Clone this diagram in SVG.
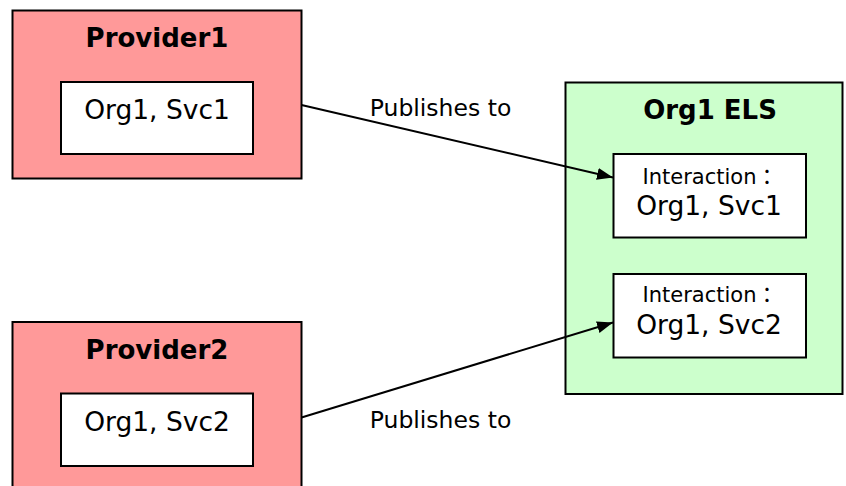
<svg xmlns="http://www.w3.org/2000/svg" width="846" height="486" viewBox="0 0 846 486">
  <style>
    .provider { fill: #ff9999; stroke: #000; stroke-width: 2; }
    .els { fill: #ccffcc; stroke: #000; stroke-width: 2; }
    .item { fill: #ffffff; stroke: #000; stroke-width: 2; }
    text { font-family: "DejaVu Sans", Verdana, "Noto Sans CJK JP", sans-serif; fill: #000; text-anchor: middle; }
    .title { font-weight: bold; font-size: 26px; }
    .name { font-size: 26.5px; }
    .kind { font-size: 21px; }
    .label { font-size: 23.5px; }
    .edge { stroke: #000; stroke-width: 2; fill: none; marker-end: url(#arrow); }
  </style>
  <defs>
    <marker id="arrow" viewBox="0 0 16 12" refX="16" refY="6" markerWidth="8" markerHeight="6" markerUnits="strokeWidth" orient="auto">
      <path d="M0,0 L16,6 L0,12 z" fill="#000"/>
    </marker>
  </defs>

  <rect width="846" height="486" fill="#fff"/>

  <g id="provider1">
    <rect class="provider" x="12.5" y="10.5" width="289" height="168"/>
    <text class="title" x="157" y="47">Provider1</text>
    <g id="provider1-svc1">
      <rect class="item" x="61" y="82" width="192" height="72"/>
      <text class="name" x="157" y="119">Org1, Svc1</text>
    </g>
  </g>

  <g id="provider2">
    <rect class="provider" x="12.5" y="322" width="289" height="180"/>
    <text class="title" x="157" y="358.5">Provider2</text>
    <g id="provider2-svc2">
      <rect class="item" x="61" y="393.5" width="192" height="72.5"/>
      <text class="name" x="157" y="431">Org1, Svc2</text>
    </g>
  </g>

  <g id="org1-els">
    <rect class="els" x="565.5" y="82.5" width="277" height="311.5"/>
    <text class="title" x="710" y="118.5">Org1 ELS</text>
    <g id="interaction-svc1">
      <rect class="item" x="613.5" y="154" width="192.5" height="83.5"/>
      <text class="kind" x="710" y="183.5">Interaction：</text>
      <text class="name" x="709" y="215">Org1, Svc1</text>
    </g>
    <g id="interaction-svc2">
      <rect class="item" x="613.5" y="274" width="192.5" height="83.5"/>
      <text class="kind" x="710" y="302">Interaction：</text>
      <text class="name" x="709" y="333.5">Org1, Svc2</text>
    </g>
  </g>

  <g id="connectors">
    <line class="edge" x1="301.5" y1="105" x2="613" y2="177.5"/>
    <text class="label" x="440.5" y="116">Publishes to</text>
    <line class="edge" x1="301.5" y1="417.5" x2="613" y2="322.5"/>
    <text class="label" x="440.5" y="427.5">Publishes to</text>
  </g>
</svg>
